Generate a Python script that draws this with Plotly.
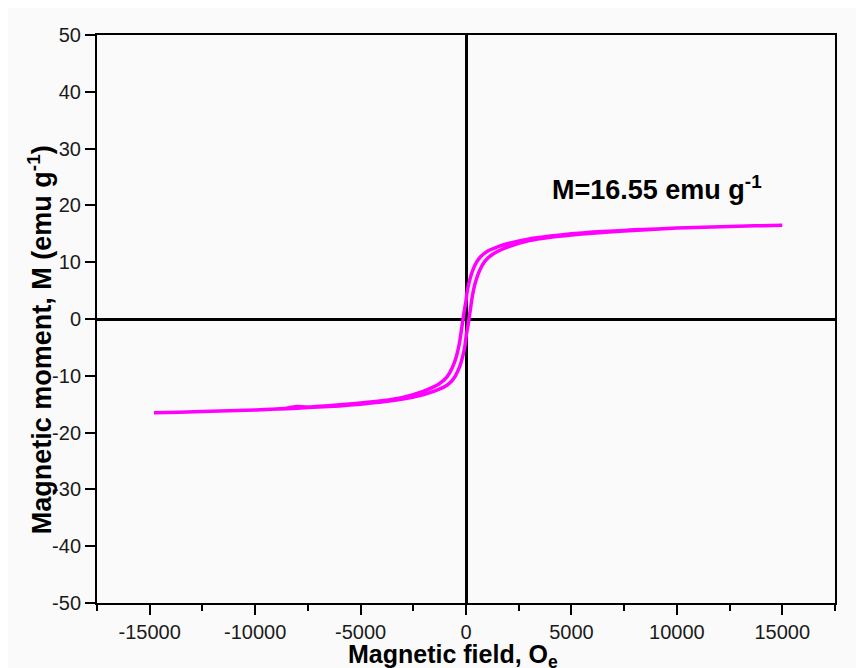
import plotly.graph_objects as go

# Descending branch (field swept from +15000 to -15000 Oe)
h_down = [15000, 12500, 10000, 8000, 7500, 6000, 5000, 4000, 3000, 2000, 1500, 1000, 700, 500, 300, 150, 50, 0,
          -100, -200, -300, -450, -650, -900, -1300, -2000, -3000, -4000, -5000, -6000, -7500, -8000, -8500,
          -10000, -12500, -14800]
m_down = [16.5, 16.3, 16.0, 15.7, 15.6, 15.3, 15.0, 14.6, 14.1, 13.3, 12.7, 11.9, 11.0, 10.0, 8.4, 6.5, 4.7, 3.2,
          1.0, -1.5, -4.0, -6.5, -8.6, -10.2, -11.5, -12.7, -13.8, -14.4, -14.8, -15.1, -15.5, -15.4, -15.7,
          -16.0, -16.3, -16.5]

# Ascending branch (field swept from -15000 to +15000 Oe)
h_up = [-14800, -12500, -10000, -8500, -7500, -6000, -5000, -4000, -3000, -2000, -1500, -1000, -700, -500, -300,
        -150, -50, 0, 100, 200, 300, 450, 650, 900, 1300, 2000, 3000, 4000, 5000, 6000, 7500, 10000, 12500, 15000]
m_up = [-16.5, -16.3, -16.0, -15.8, -15.6, -15.3, -15.0, -14.6, -14.1, -13.3, -12.7, -11.9, -11.0, -10.0, -8.4,
        -6.5, -4.7, -3.2, -1.0, 1.5, 4.0, 6.5, 8.6, 10.2, 11.5, 12.7, 13.8, 14.4, 14.8, 15.1, 15.5, 16.0, 16.3, 16.5]

x_ticks = [-15000, -10000, -5000, 0, 5000, 10000, 15000]
x_tick_text = ["-15000", "-10000", "-5000", "0", "5000", "10000", "15000"]
y_ticks = [-50, -40, -30, -20, -10, 0, 10, 20, 30, 40, 50]
y_tick_text = ["-50", "-40", "-30", "-20", "-10", "0", "10", "20", "30", "40", "50"]

annotation_text = "<b>M=16.55 emu g<sup>-1</sup></b>"
annotation_pos = (4000, 23)
x_title = "<b>Magnetic field, O<sub>e</sub></b>"
y_title = "<b>Magnetic moment, M (emu g<sup>-1</sup>)</b>"

font_family = "Liberation Sans, Arial, sans-serif"

fig = go.Figure()
fig.add_trace(go.Scatter(x=h_down + h_up, y=m_down + m_up, mode="lines",
                         line=dict(color="#ff00ff", width=3.5, shape="spline", smoothing=0.6),
                         showlegend=False))

fig.add_annotation(x=annotation_pos[0], y=annotation_pos[1], text=annotation_text, showarrow=False,
                   xanchor="left", yanchor="middle",
                   font=dict(family=font_family, size=27, color="black"))

fig.add_annotation(xref="paper", yref="paper", x=0.482, y=-0.061, text=x_title, showarrow=False,
                   xanchor="center", yanchor="top",
                   font=dict(family=font_family, size=25, color="black"))
fig.add_annotation(xref="paper", yref="paper", x=-0.077, y=0.463, text=y_title, showarrow=False,
                   xanchor="center", yanchor="middle", textangle=-90,
                   font=dict(family=font_family, size=27, color="black"))

axis_common = dict(ticks="outside", ticklen=10, tickwidth=2, tickcolor="black",
                   showline=True, linecolor="black", linewidth=2, mirror=True,
                   showgrid=False, zeroline=True, zerolinecolor="black", zerolinewidth=3,
                   automargin=False, tickfont=dict(family=font_family, size=20, color="#1a1a1a"))

# The page body adds an 8px offset, so the figure is sized to the visible 856x660 area.
fig.update_layout(
    width=856, height=660,
    margin=dict(l=89, r=29, t=27, b=65),
    paper_bgcolor="#fafafa", plot_bgcolor="#fafafa",
    font=dict(family=font_family, color="#1a1a1a"),
    xaxis=dict(range=[-17500, 17500], tickvals=x_ticks, ticktext=x_tick_text,
               minor=dict(dtick=2500, tick0=0, ticks="outside", ticklen=6, tickwidth=2, tickcolor="black"),
               **axis_common),
    yaxis=dict(range=[-50, 50], tickvals=y_ticks, ticktext=y_tick_text, **axis_common),
)

fig.write_html("out.html")
